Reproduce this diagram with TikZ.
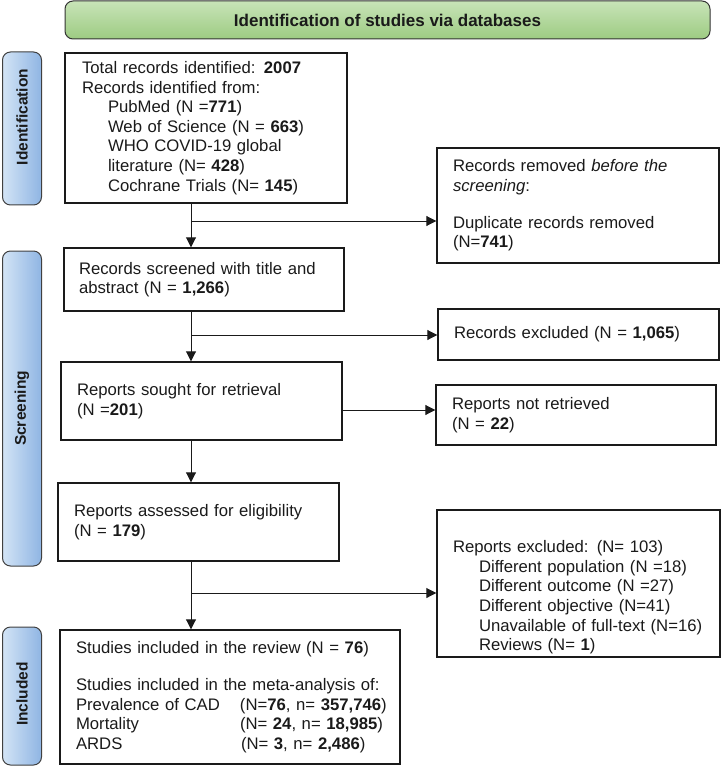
\documentclass[tikz,border=0pt]{standalone}
\usepackage{fontspec}
\setmainfont{Liberation Sans}
\usetikzlibrary{arrows.meta}
\definecolor{barL}{HTML}{D3E4F6}
\definecolor{barR}{HTML}{8FB5E3}
\definecolor{banT}{HTML}{C8E4B8}
\definecolor{banB}{HTML}{9DCB82}
\definecolor{ink}{HTML}{1A1A1A}
\newcommand{\fullrow}[1]{\makebox[308pt][l]{#1}}
\begin{document}
\begin{tikzpicture}[x=1pt,y=-1pt,
  box/.style={draw=ink, line width=1.4pt, inner xsep=0pt, inner ysep=0pt, align=left,
    text=ink, font=\fontsize{16.7}{19.6}\selectfont},
  sidebar/.style={draw=black!75, line width=1pt, rounded corners=8pt,
    left color=barL, right color=barR, minimum width=39pt, inner sep=0pt},
  sidetext/.style={rotate=90, font=\fontsize{15.5}{18}\selectfont\bfseries, text=ink},
  banner/.style={draw=black!80, line width=1pt, rounded corners=8pt,
    top color=banT, bottom color=banB, minimum width=645pt, minimum height=38pt,
    font=\fontsize{17}{20}\selectfont\bfseries, text=ink},
  arr/.style={draw=ink, line width=0.9pt, -{Triangle[length=10pt,width=10pt]}}]
\useasboundingbox (0,0) rectangle (721,767);

% banner
\node[banner] (ban) at (387.5,20) {Identification of studies via databases};

% side bars
\node[sidebar, minimum height=153pt] (idbar) at (22,128.5) {};
\node[sidetext] (idtxt) at (22,117) {Identification};
\node[sidebar, minimum height=315pt] (scbar) at (22,408.5) {};
\node[sidetext] (sctxt) at (scbar.center) {Screening};
\node[sidebar, minimum height=138pt] (inbar) at (22,696) {};
\node[sidetext] (intxt) at (22,694) {Included};

% left column
\node[box, minimum width=282pt, minimum height=150pt, text width=248pt] (b1) at (206,128)
 {Total records identified: \textbf{2007}\\
  Records identified from:\\
  \hspace*{26pt}PubMed (N =\textbf{771})\\
  \hspace*{26pt}Web of Science (N = \textbf{663})\\
  \hspace*{26pt}WHO COVID-19 global\\
  \hspace*{26pt}literature (N= \textbf{428})\\
  \hspace*{26pt}Cochrane Trials (N= \textbf{145})};

\node[box, minimum width=280pt, minimum height=63pt, text width=250pt] (b2) at (204,279.5)
 {Records screened with title and\\ abstract (N = \textbf{1,266})};

\node[box, minimum width=281pt, minimum height=78pt, text width=249pt] (b3) at (201.5,401)
 {Reports sought for retrieval\\ (N =\textbf{201})};

\node[box, minimum width=281pt, minimum height=78pt, text width=249pt] (b4) at (198.5,522)
 {Reports assessed for eligibility\\ (N = \textbf{179})};

\node[box, minimum width=340pt, minimum height=134pt, text width=308pt] (b5) at (230,697)
 {Studies included in the review (N = \textbf{76})\\[17.5pt]
  Studies included in the meta-analysis of:\\
  \fullrow{\makebox[164pt][l]{Prevalence of CAD}(N=\textbf{76}, n= \textbf{357,746})}\\
  \fullrow{\makebox[164pt][l]{Mortality}(N= \textbf{24}, n= \textbf{18,985})}\\
  \fullrow{\makebox[165pt][l]{ARDS}(N= \textbf{3}, n= \textbf{2,486})}};

% right column
\node[box, minimum width=282pt, minimum height=115pt, text width=250pt] (r1) at (578,205.5)
 {Records removed \textit{before the}\\ \textit{screening}:\\[17.5pt]
  Duplicate records removed\\ (N=\textbf{741})};

\node[box, minimum width=281pt, minimum height=51pt, text width=249pt] (r2) at (578.5,334.5)
 {Records excluded (N = \textbf{1,065})};

\node[box, minimum width=280pt, minimum height=60pt, text width=248pt] (r3) at (576,415)
 {Reports not retrieved\\ (N = \textbf{22})};

\node[box, minimum width=283pt, minimum height=147pt, text width=251pt] (r4) at (578.5,583.5)
 {\rule{0pt}{40pt}Reports excluded: (N= 103)\\
  \hspace*{26pt}Different population (N =18)\\
  \hspace*{26pt}Different outcome (N =27)\\
  \hspace*{26pt}Different objective (N=41)\\
  \hspace*{26pt}Unavailable of full-text (N=16)\\
  \hspace*{26pt}Reviews (N= \textbf{1})};

% connectors
\coordinate (sp) at (191,0);
\coordinate (j1) at (191,221);
\coordinate (j2) at (191,335);
\coordinate (j3) at (342,410);
\coordinate (j4) at (191,593);

\draw[arr] (b1.south -| sp) -- (b2.north -| sp);
\draw[arr] (j1) -- (j1 -| r1.west);
\draw[arr] (b2.south -| sp) -- (b3.north -| sp);
\draw[arr] (j2) -- (j2 -| r2.west);
\draw[arr] (j3 -| b3.east) -- (j3 -| r3.west);
\draw[arr] (b3.south -| sp) -- (b4.north -| sp);
\draw[arr] (b4.south -| sp) -- (b5.north -| sp);
\draw[arr] (j4) -- (j4 -| r4.west);
\end{tikzpicture}
\end{document}
